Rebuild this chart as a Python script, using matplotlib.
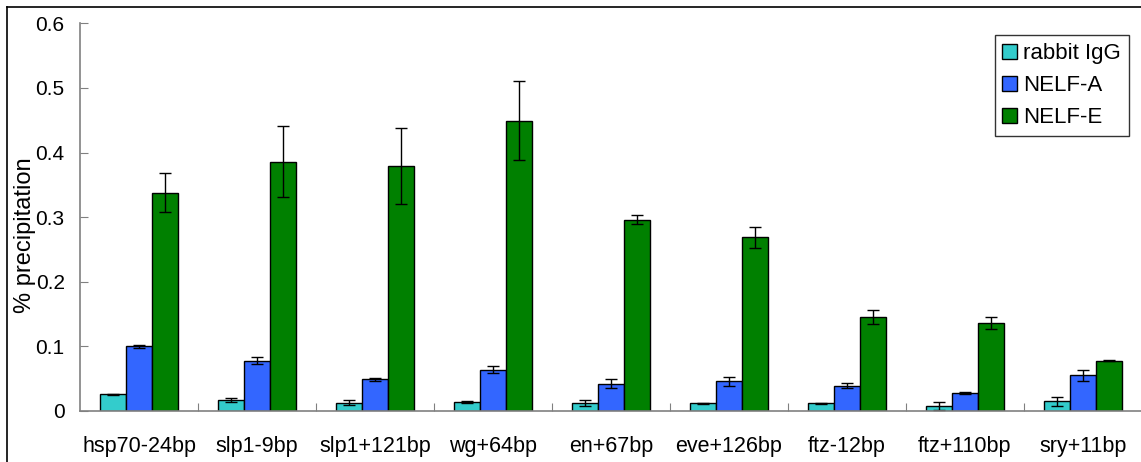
import matplotlib
matplotlib.use("Agg")
import matplotlib.pyplot as plt
import numpy as np

plt.rcParams['font.family'] = ['Liberation Sans', 'DejaVu Sans']

sites = ["hsp70-24bp", "slp1-9bp", "slp1+121bp", "wg+64bp", "en+67bp",
         "eve+126bp", "ftz-12bp", "ftz+110bp", "sry+11bp"]

igg = [0.026, 0.017, 0.013, 0.014, 0.012, 0.012, 0.012, 0.008, 0.015]
igg_err = [0.001, 0.003, 0.004, 0.001, 0.005, 0.001, 0.001, 0.006, 0.007]

nelf_a = [0.100, 0.078, 0.049, 0.064, 0.042, 0.046, 0.039, 0.028, 0.055]
nelf_a_err = [0.002, 0.006, 0.002, 0.005, 0.007, 0.007, 0.004, 0.001, 0.009]

nelf_e = [0.338, 0.386, 0.379, 0.449, 0.296, 0.269, 0.145, 0.136, 0.078]
nelf_e_err = [0.030, 0.055, 0.059, 0.061, 0.007, 0.016, 0.011, 0.009, 0.001]

series = [("rabbit IgG", igg, igg_err, "#33CCCC"),
          ("NELF-A", nelf_a, nelf_a_err, "#3366FF"),
          ("NELF-E", nelf_e, nelf_e_err, "#008000")]

fig = plt.figure(figsize=(11.41, 4.62), dpi=100)
ax = fig.add_axes([80/1141, 1 - 411/462, 1062/1141, (411 - 23.3)/462])

x = np.arange(len(sites))
w = 0.223
for i, (name, vals, errs, col) in enumerate(series):
    pos = x + (i - 1) * w
    ax.bar(pos, vals, w, color=col, edgecolor="black", linewidth=1.0, label=name)
    ax.errorbar(pos, vals, yerr=errs, fmt="none", ecolor="black",
                elinewidth=1.0, capsize=4, capthick=1.0)

ax.set_xlim(-0.5, len(sites) - 0.5)
ax.set_ylim(0, 0.6)
ax.set_yticks([0, 0.1, 0.2, 0.3, 0.4, 0.5, 0.6])
ax.set_yticklabels(["0", "0.1", "0.2", "0.3", "0.4", "0.5", "0.6"], fontsize=15)
# group separators as major ticks, names as minor tick labels
ax.set_xticks(x + 0.5, minor=False)
ax.set_xticklabels([])
ax.set_xticks(x, minor=True)
ax.set_xticklabels(sites, minor=True, fontsize=15.5)
ax.tick_params(axis="x", which="major", direction="in", length=6, color="#808080")
ax.tick_params(axis="x", which="minor", length=0, pad=18)
ax.tick_params(axis="y", direction="in", length=6, color="#808080", pad=11)

for s in ["top", "right"]:
    ax.spines[s].set_visible(False)
for s in ["left", "bottom"]:
    ax.spines[s].set_color("#808080")
    ax.spines[s].set_linewidth(1.2)

ax.set_ylabel("% precipitation", fontsize=17)
ax.yaxis.set_label_coords(-44/1062, (411 - 235)/387.7)

leg = ax.legend(loc="upper right", bbox_to_anchor=(1049/1062, 1 - 12/387.7),
                fontsize=16, frameon=True, fancybox=False, edgecolor="black",
                handlelength=0.65, handleheight=0.65, handletextpad=0.3,
                labelspacing=0.5, borderpad=0.35, borderaxespad=0)
leg.get_frame().set_linewidth(1.0)

# outer chart border (top and left visible)
fig.add_artist(plt.Line2D([7/1141, 1.0], [1 - 7/462, 1 - 7/462], color="black", lw=1.2))
fig.add_artist(plt.Line2D([7/1141, 7/1141], [0, 1 - 7/462], color="black", lw=1.2))

fig.savefig("out.png", dpi=100)
